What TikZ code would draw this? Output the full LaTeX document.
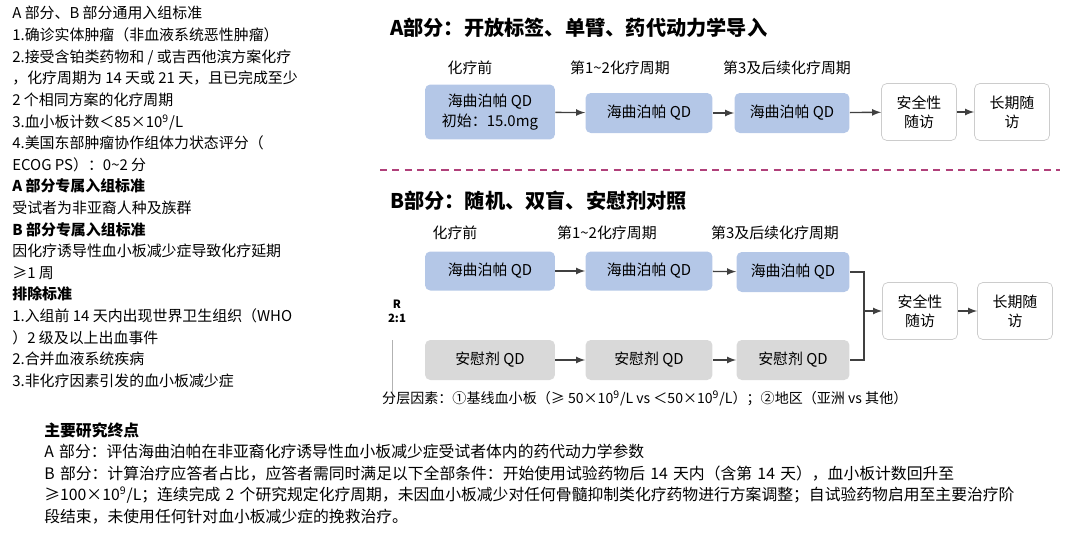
\documentclass[tikz,border=0pt]{standalone}
\usepackage{fontspec}
\setmainfont{Noto Sans CJK SC}
\usetikzlibrary{positioning}
\definecolor{drugblue}{HTML}{B4C7E7}
\definecolor{placebo}{HTML}{D9D9D9}
\definecolor{divider}{HTML}{B0407A}
\newcommand\tld{\textasciitilde}
\begin{document}
\begin{tikzpicture}[
  x=0.02cm, y=-0.02cm,
  box/.style={rounded corners=3pt, inner sep=1pt, align=center, font=\fontsize{8.5}{11}\selectfont},
  drug/.style={box, fill=drugblue},
  pbo/.style={box, fill=placebo},
  visit/.style={box, draw=black!20, fill=white, minimum width=1.5cm, minimum height=1.14cm},
  phase/.style={font=\fontsize{8.5}{11}\selectfont},
  part/.style={anchor=west, font=\bfseries\fontsize{11.5}{13}\selectfont},
  txt/.style={anchor=north west, inner sep=0pt, align=left, font=\fontsize{8.5}{12.3}\selectfont},
  flow/.style={-latex, thick, black!75}
]
  \useasboundingbox (0,0) rectangle (1080,538);
  % left column: inclusion and exclusion criteria
  \node[txt] (crit) at (12,6) {A 部分、B 部分通用入组标准\\
    1.确诊实体肿瘤（非血液系统恶性肿瘤）\\
    2.接受含铂类药物和 / 或吉西他滨方案化疗\\
    ，化疗周期为 14 天或 21 天，且已完成至少\\
    2 个相同方案的化疗周期\\
    3.血小板计数＜85×10\textsuperscript{9}/L\\
    4.美国东部肿瘤协作组体力状态评分（\\
    ECOG PS）：0\tld 2 分\\
    \textbf{A 部分专属入组标准}\\
    受试者为非亚裔人种及族群\\
    \textbf{B 部分专属入组标准}\\
    因化疗诱导性血小板减少症导致化疗延期\\
    ≥1 周\\
    \textbf{排除标准}\\
    1.入组前 14 天内出现世界卫生组织（WHO\\
    ）2 级及以上出血事件\\
    2.合并血液系统疾病\\
    3.非化疗因素引发的血小板减少症};
  % part A
  \node[part] (titleA) at (384,28) {A部分：开放标签、单臂、药代动力学导入};
  \node[drug, minimum width=2.6cm, minimum height=1.1cm] (a1) at (490,112) {海曲泊帕 QD\\初始：15.0mg};
  \node[drug, minimum width=2.54cm, minimum height=0.8cm] (a2) at (649,113) {海曲泊帕 QD};
  \node[drug, minimum width=2.3cm, minimum height=0.8cm] (a3) at (792,113) {海曲泊帕 QD};
  \node[visit] (a4) at (919,112) {安全性\\随访};
  \node[visit] (a5) at (1012,112) {长期随\\访};
  \node[phase] (pa1) at (470,68) {化疗前};
  \node[phase] (pa2) at (620,68) {第1\tld 2化疗周期};
  \node[phase] (pa3) at (787,68) {第3及后续化疗周期};
  \draw[flow] (a1) -- (a2);
  \draw[flow] (a2) -- (a3);
  \draw[flow] (a3) -- (a4);
  \draw[flow] (a4) -- (a5);
  \draw[divider, very thick, dash pattern=on 4pt off 3pt] (380,170) -- (1060,170);
  % part B
  \node[part] (titleB) at (384,201) {B部分：随机、双盲、安慰剂对照};
  \node[phase] (pb1) at (455,233) {化疗前};
  \node[phase] (pb2) at (607,233) {第1\tld 2化疗周期};
  \node[phase] (pb3) at (775,233) {第3及后续化疗周期};
  \node[drug, minimum width=2.6cm, minimum height=0.78cm] (b1) at (490,271) {海曲泊帕 QD};
  \node[drug, minimum width=2.54cm, minimum height=0.78cm] (b2) at (649,271) {海曲泊帕 QD};
  \node[drug, minimum width=2.26cm, minimum height=0.8cm] (b3) at (793,272) {海曲泊帕 QD};
  \node[pbo, minimum width=2.6cm, minimum height=0.8cm] (c1) at (490,360) {安慰剂 QD};
  \node[pbo, minimum width=2.54cm, minimum height=0.8cm] (c2) at (649,360) {安慰剂 QD};
  \node[pbo, minimum width=2.26cm, minimum height=0.8cm] (c3) at (793,360) {安慰剂 QD};
  \node[visit] (b4) at (920,311) {安全性\\随访};
  \node[visit] (b5) at (1015,311) {长期随\\访};
  \node[font=\bfseries\fontsize{6.5}{8}\selectfont, align=center] (rand) at (397,311) {R\\2:1};
  \coordinate (join) at (864,311);
  \draw[black!30] (392,340) -- (392,400);
  \draw[flow] (b1) -- (b2);
  \draw[flow] (b2) -- (b3);
  \draw[flow] (c1) -- (c2);
  \draw[flow] (c2) -- (c3);
  \draw[thick, black!75] (b3.east) -| (join) |- (c3.east);
  \draw[flow] (join) -- (b4);
  \draw[flow] (b4) -- (b5);
  \node[anchor=west, font=\fontsize{8}{10}\selectfont] (strata) at (376,398) {分层因素：①基线血小板（≥ 50×10\textsuperscript{9}/L vs ＜50×10\textsuperscript{9}/L）；②地区（亚洲 vs 其他）};
  % endpoints
  \node[txt, text width=20.5cm, font=\fontsize{9}{12.3}\selectfont] (endp) at (44,422) {\textbf{主要研究终点}\\
    A 部分：评估海曲泊帕在非亚裔化疗诱导性血小板减少症受试者体内的药代动力学参数\\
    B 部分：计算治疗应答者占比，应答者需同时满足以下全部条件：开始使用试验药物后 14 天内（含第 14 天），血小板计数回升至\\
    ≥100×10\textsuperscript{9}/L；连续完成 2 个研究规定化疗周期，未因血小板减少对任何骨髓抑制类化疗药物进行方案调整；自试验药物启用至主要治疗阶\\
    段结束，未使用任何针对血小板减少症的挽救治疗。};
\end{tikzpicture}
\end{document}
